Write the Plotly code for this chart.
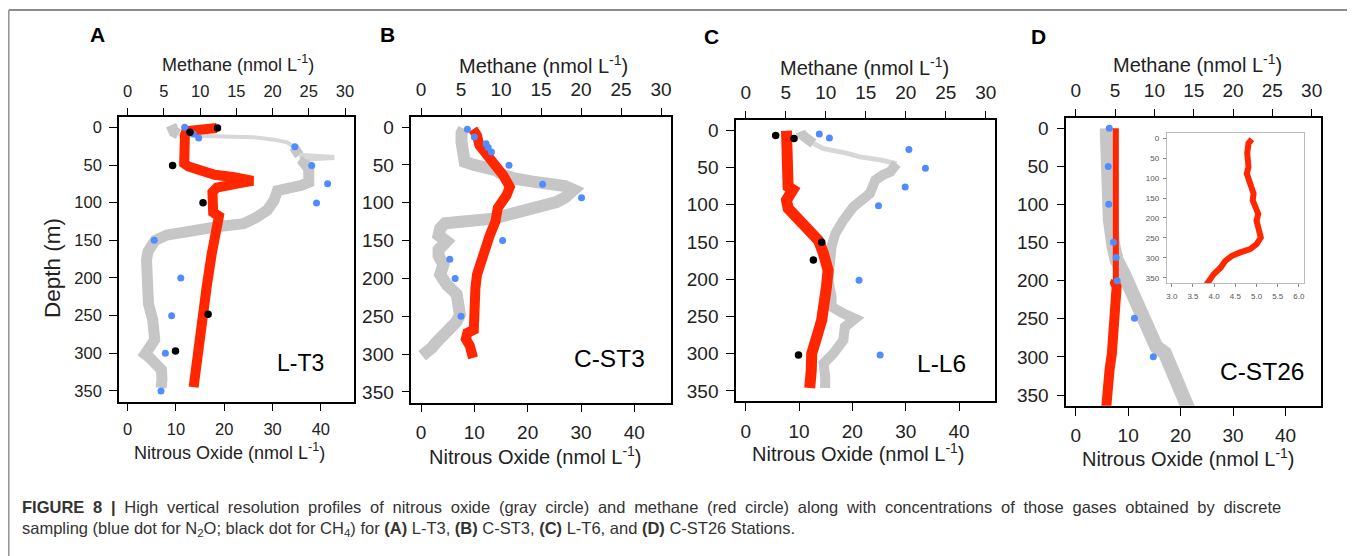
import plotly.graph_objects as go

# ---------------- DATA ----------------
# Panel A : L-T3
A_n2o_depth = [-3, 2, 6, 9, 11, 12, 13, 16, 20, 26, 32, 37, 39, 40, 42, 47, 55, 65, 73, 77, 80, 84, 97, 110, 119, 128, 132, 137, 143, 150, 156, 165, 176, 195, 212, 234, 256, 270, 282, 290, 297, 301, 306, 312, 322, 335, 346]
A_n2o = [9.0, 9.2, 9.6, 10.5, 14, 20, 26, 30, 33, 34.4, 35, 35.5, 40, 42.8, 37, 36.5, 37.5, 37.5, 37.5, 36, 32.5, 31, 30.3, 28.9, 26.8, 24, 18.5, 12.3, 8.1, 5.7, 4.8, 4.2, 3.9, 3.9, 4.0, 4.3, 5.2, 5.6, 5.6, 4.8, 3.8, 3.6, 4.6, 5.8, 7.0, 7.1, 6.9]
A_ch4_depth = [1, 2, 3, 5, 10, 30, 48, 52, 56, 60, 63, 66, 69, 71, 73, 76, 80, 86, 100, 113, 118, 122, 130, 168, 212, 256, 300, 327, 345]
A_ch4 = [12.3, 10.5, 8.8, 8.1, 7.9, 7.8, 7.8, 8.4, 9.6, 10.5, 12, 14.5, 16.5, 17.3, 16, 14, 12.3, 11.7, 11.6, 11.8, 12.6, 12.5, 12.2, 11.6, 10.9, 10.2, 9.8, 9.3, 9.1]
A_n2o_disc_depth = [0, 9, 14, 25.6, 50.7, 75, 100.6, 150, 200, 250, 300, 350]
A_n2o_disc = [11.8, 13.6, 14.7, 34.6, 38.1, 41.4, 39.1, 5.5, 11, 9.1, 7.8, 6.9]
A_ch4_disc_depth = [1, 6.6, 50.7, 100, 248, 297]
A_ch4_disc = [12.4, 8.6, 6.2, 10.4, 11.1, 6.6]

# Panel B : C-ST3
B_n2o_depth = [2, 8, 20, 30, 40, 46, 50, 53, 57, 63, 68, 72, 75, 78, 83, 88, 93, 99, 105, 110, 116, 121, 124, 127, 134, 143, 151, 156, 162, 170, 182, 195, 208, 221, 235, 248, 257, 265, 272, 278, 285, 292, 298, 302]
B_n2o = [8.0, 7.6, 7.6, 7.7, 7.8, 8.2, 10, 12.5, 14, 15.4, 17.5, 21, 24.5, 27, 28.6, 28, 27, 25.4, 22.5, 19.5, 16.7, 13.5, 9, 4.5, 3.6, 3.3, 4.8, 4.2, 3.3, 3.3, 4.2, 3.6, 4.8, 6.7, 7.3, 7.3, 6.7, 5.4, 4.5, 3.6, 2.8, 2.0, 1.0, 0.2]
B_ch4_depth = [3, 11, 24, 37, 50, 64, 79, 90, 107, 115, 125, 143, 169, 195, 213, 237, 257, 268, 272, 280, 289, 300, 305]
B_ch4 = [6.5, 7.0, 7.3, 8.3, 9.0, 10.3, 11.1, 10.7, 9.6, 9.5, 9.3, 8.6, 7.8, 7.0, 6.8, 6.8, 6.8, 6.6, 5.8, 5.6, 6.1, 6.5, 6.5]
B_n2o_disc_depth = [3, 13, 22, 27, 33, 50.4, 75.4, 93.4, 150, 174.6, 200, 250]
B_n2o_disc = [8.7, 10, 12.2, 12.6, 13.2, 16.5, 22.8, 30.1, 15.3, 5.4, 6.4, 7.5]

# Panel C : L-L6
C_n2o_depth = [2, 6, 10, 18, 25, 31, 36, 40, 45, 49, 56, 60, 67, 85, 103, 121, 139, 156, 174, 201, 224, 237, 246, 253, 264, 282, 300, 313, 331, 346]
C_n2o = [10.3, 10.5, 11.2, 12.7, 14.6, 18.9, 21.4, 25.2, 28.3, 28, 27.1, 25.8, 24.3, 23.3, 20.2, 18.3, 16.8, 16.1, 15.8, 15.5, 16.1, 16.1, 18.3, 20.5, 18.6, 18.3, 16.4, 14.6, 14.9, 14.9]
C_ch4_depth = [1, 31, 60, 76, 80, 85, 94, 105, 110, 121, 134, 148, 165, 188, 210, 232, 255, 277, 300, 322, 346]
C_ch4 = [5.1, 5.1, 5.15, 5.3, 5.9, 5.5, 5.1, 5.3, 5.75, 7.0, 8.0, 9.1, 9.7, 10.3, 10.1, 9.9, 9.5, 8.9, 8.25, 8.2, 8.0]
C_n2o_disc_depth = [5.4, 10.7, 26, 51.2, 76.4, 101.5, 201.6, 301.7]
C_n2o_disc = [13.8, 15.7, 30.6, 33.7, 29.9, 24.9, 21.25, 25.2]
C_ch4_disc_depth = [7.2, 11.2, 150.6, 174.3, 301.7]
C_ch4_disc = [3.75, 6.04, 9.5, 8.46, 6.6]

# Panel D : C-ST26
D_n2o_depth = [0, 33, 77, 120, 155, 173, 190, 208, 230, 252, 273, 287, 295, 317, 339, 361, 370]
D_n2o = [5.9, 5.9, 6.2, 6.5, 7.2, 7.8, 9.1, 10.3, 11.9, 13.2, 14.2, 15.4, 17.0, 18.6, 19.9, 21.1, 21.6]
D_ch4_depth = [0, 100, 200, 203, 208, 234, 252, 273, 295, 317, 339, 361, 370]
D_ch4 = [5.1, 5.1, 5.1, 5.0, 5.2, 5.1, 5.0, 4.8, 4.6, 4.3, 4.1, 3.9, 3.85]
D_n2o_disc_depth = [0, 50.3, 99.7, 149.6, 169.7, 200, 249.3, 299.7]
D_n2o_disc = [6.4, 6.2, 6.3, 7.2, 7.7, 7.9, 11.2, 14.8]
# inset (methane zoom)
D_inset_depth = [2.5, 12.6, 38, 72, 88.5, 105, 122, 139, 156, 173, 190, 207, 223, 240, 249, 266, 278, 287, 295, 308, 325, 341, 358, 367]
D_inset_ch4 = [4.89, 4.81, 4.78, 4.81, 4.77, 4.83, 4.89, 4.93, 4.91, 4.96, 5.04, 5.0, 5.04, 5.1, 5.1, 5.0, 4.85, 4.6, 4.42, 4.26, 4.15, 3.99, 3.87, 3.82]

station_names = ["L-T3", "C-ST3", "L-L6", "C-ST26"]
panel_letters = ["A", "B", "C", "D"]
depth_ticks = [0, 50, 100, 150, 200, 250, 300, 350]
methane_ticks = [0, 5, 10, 15, 20, 25, 30]
n2o_ticks = [0, 10, 20, 30, 40]
inset_x_ticks = [3.0, 3.5, 4.0, 4.5, 5.0, 5.5, 6.0]

# ---------------- LAYOUT helpers ----------------
# The page body has an 8 px margin, so the figure is drawn 8 px in from the window corner.
OFF = 8
W, H = 1355 - OFF, 556 - OFF
def px(x):
    return (x - OFF) / W
def py(y):
    return 1 - (y - OFF) / H

FONT = "Liberation Sans, Arial, Helvetica, sans-serif"
GRAY = "rgb(198,198,198)"
GRAY_LIGHT = "rgb(215,215,215)"
RED = "rgb(255,38,0)"
BLUE = "rgb(80,140,255)"
BLACK = "black"

# plot boxes in window pixels: (x0, x1, y0(top), y1(bottom))
boxes = [
    (119.0, 353.7, 116.8, 401.5),
    (411.4, 670.6, 116.5, 402.5),
    (736.1, 995.3, 119.6, 401.4),
    (1066.3, 1321.1, 117.6, 405.7),
]
tick_sizes = [16.5, 19, 19, 19]
title_sizes = [18, 20, 20, 20]

# band styling per panel: (first index, last index, width, colour) segments
gray_segments = [
    [(0, 3, 11, GRAY), (3, 9, 4, GRAY_LIGHT), (9, 11, 10, GRAY), (11, 14, 5, GRAY_LIGHT), (14, 46, 11, GRAY)],
    [(0, 43, 12, GRAY)],
    [(0, 3, 10, GRAY), (3, 8, 5, GRAY_LIGHT), (8, 29, 10, GRAY)],
    [(0, 16, 14, GRAY)],
]
red_segments = [
    [(0, 28, 10, RED)],
    [(0, 22, 10, RED)],
    [(0, 20, 11, RED)],
    [(0, 2, 6, RED), (2, 12, 10, RED)],
]

panel_data = [
    (A_n2o_depth, A_n2o, A_ch4_depth, A_ch4, A_n2o_disc_depth, A_n2o_disc, A_ch4_disc_depth, A_ch4_disc),
    (B_n2o_depth, B_n2o, B_ch4_depth, B_ch4, B_n2o_disc_depth, B_n2o_disc, [], []),
    (C_n2o_depth, C_n2o, C_ch4_depth, C_ch4, C_n2o_disc_depth, C_n2o_disc, C_ch4_disc_depth, C_ch4_disc),
    (D_n2o_depth, D_n2o, D_ch4_depth, D_ch4, D_n2o_disc_depth, D_n2o_disc, [], []),
]

N2O_RANGE = [-1.8, 46.8]
CH4_RANGE = [-1.2, 31.2]
DEPTH_RANGE = [364, -14]

fig = go.Figure()
layout = dict(
    width=W, height=H, margin=dict(l=0, r=0, t=0, b=0),
    paper_bgcolor="white", plot_bgcolor="white", showlegend=False,
    font=dict(family=FONT, color="#222"),
)

def sfx(n):
    return "" if n == 1 else str(n)

def add_band(xs, ys, segs, xa, ya):
    for a, b, w, c in segs:
        fig.add_trace(go.Scatter(x=xs[a:b + 1], y=ys[a:b + 1], mode="lines", xaxis=xa, yaxis=ya,
                                 line=dict(color=c, width=w), hoverinfo="skip"))

for i in range(4):
    x0, x1, y0, y1 = boxes[i]
    nb = i + 1          # bottom x axis & y axis index
    nt = i + 5          # top (methane) x axis index
    nblue = i + 10      # hidden overlay for discrete N2O dots (drawn above the red band)
    nblack = i + 14     # hidden overlay for discrete CH4 dots (drawn on top)
    tf = dict(family=FONT, size=tick_sizes[i], color="#222")
    layout["xaxis" + sfx(nb)] = dict(
        domain=[px(x0), px(x1)], anchor="y" + sfx(nb), range=N2O_RANGE,
        tickvals=n2o_ticks, ticks="outside", ticklen=8, tickwidth=1.2, tickcolor="black",
        showline=True, mirror=True, linecolor="black", linewidth=1.6,
        showgrid=False, zeroline=False, tickfont=tf, ticklabelstandoff=4,
    )
    layout["xaxis" + str(nt)] = dict(
        overlaying="x" + sfx(nb), side="top", anchor="y" + sfx(nb), range=CH4_RANGE,
        tickvals=methane_ticks, ticks="outside", ticklen=8, tickwidth=1.2, tickcolor="black",
        showline=False, showgrid=False, zeroline=False, tickfont=tf, ticklabelstandoff=4,
    )
    layout["xaxis" + str(nblue)] = dict(
        overlaying="x" + sfx(nb), anchor="y" + sfx(nb), range=N2O_RANGE, visible=False,
    )
    layout["xaxis" + str(nblack)] = dict(
        overlaying="x" + sfx(nb), anchor="y" + sfx(nb), range=CH4_RANGE, visible=False,
    )
    layout["yaxis" + sfx(nb)] = dict(
        domain=[py(y1), py(y0)], anchor="x" + sfx(nb), range=DEPTH_RANGE,
        tickvals=depth_ticks, ticks="outside", ticklen=8, tickwidth=1.2, tickcolor="black",
        showline=True, mirror=True, linecolor="black", linewidth=1.6,
        showgrid=False, zeroline=False, tickfont=tf, ticklabelstandoff=4,
    )
    nd, nv, cd, cv, bd, bv, kd, kv = panel_data[i]
    yy = "y" + sfx(nb)
    add_band(nv, nd, gray_segments[i], "x" + sfx(nb), yy)
    add_band(cv, cd, red_segments[i], "x" + str(nt), yy)
    fig.add_trace(go.Scatter(x=bv, y=bd, mode="markers", xaxis="x" + str(nblue), yaxis=yy,
                             marker=dict(color=BLUE, size=7)))
    if kd:
        fig.add_trace(go.Scatter(x=kv, y=kd, mode="markers", xaxis="x" + str(nblack), yaxis=yy,
                                 marker=dict(color=BLACK, size=7.5)))

# inset in panel D
ix0, ix1, iy0, iy1 = 1166.7, 1304.0, 132.7, 283.3
inset_font = dict(family=FONT, size=8, color="#555")
layout["xaxis9"] = dict(
    domain=[px(ix0), px(ix1)], anchor="y5", range=[2.88, 6.12],
    tickvals=inset_x_ticks, ticktext=["%.1f" % v for v in inset_x_ticks],
    ticks="outside", ticklen=3, tickwidth=0.8, tickcolor="#888",
    showline=True, mirror=True, linecolor="#bbb", linewidth=1,
    showgrid=False, zeroline=False, tickfont=inset_font, ticklabelstandoff=2,
)
layout["yaxis5"] = dict(
    domain=[py(iy1), py(iy0)], anchor="x9", range=DEPTH_RANGE,
    tickvals=depth_ticks, ticks="outside", ticklen=3, tickwidth=0.8, tickcolor="#888",
    showline=True, mirror=True, linecolor="#bbb", linewidth=1,
    showgrid=False, zeroline=False, tickfont=inset_font, ticklabelstandoff=2,
)
fig.add_trace(go.Scatter(x=D_inset_ch4, y=D_inset_depth, mode="lines", xaxis="x9", yaxis="y5",
                         line=dict(color=RED, width=6)))

# ---------------- annotations ----------------
ann = []
def add_text(x, y, text, size, bold=False, color="#222", xanchor="center", angle=0):
    ann.append(dict(x=px(x), y=py(y), xref="paper", yref="paper", text=("<b>%s</b>" % text) if bold else text,
                    showarrow=False, xanchor=xanchor, yanchor="middle", textangle=angle, borderpad=0,
                    font=dict(family=FONT, size=size, color=color)))

letter_pos = [(97, 34), (387, 35), (711, 36.5), (1038, 36.5)]
meth_title_pos = [(238, 63.5), (543, 65), (864, 66.5), (1197, 63.5)]
n2o_title_pos = [(229, 451), (535, 455), (859, 452), (1188, 457)]
station_pos = [(300, 363), (609, 358), (941, 363), (1262, 371.5)]
station_sizes = [23, 24.5, 24.5, 24.5]
for i in range(4):
    add_text(*letter_pos[i], panel_letters[i], 21, bold=True, color="black")
    add_text(*meth_title_pos[i], "Methane (nmol L<sup>-1</sup>)", title_sizes[i])
    add_text(*n2o_title_pos[i], "Nitrous Oxide (nmol L<sup>-1</sup>)", title_sizes[i])
    add_text(*station_pos[i], station_names[i], station_sizes[i], color="black")
add_text(52, 268, "Depth (m)", 22.5, angle=-90)

# first caption line is justified in the reference: widen the word gaps
SP = " &#8197;"
cap1_words = ["<b>FIGURE", "8", "|</b>", "High", "vertical", "resolution", "profiles", "of", "nitrous", "oxide",
              "(gray", "circle)", "and", "methane", "(red", "circle)", "along", "with", "concentrations", "of",
              "those", "gases", "obtained", "by", "discrete"]
cap1 = SP.join(cap1_words)
cap2 = ("sampling (blue dot for N<sub>2</sub>O; black dot for CH<sub>4</sub>) for <b>(A)</b> L-T3, "
        "<b>(B)</b> C-ST3, <b>(C)</b> L-T6, and <b>(D)</b> C-ST26 Stations.")
add_text(21, 507, cap1, 16.5, color="#333", xanchor="left")
add_text(21, 529, cap2, 16.5, color="#333", xanchor="left")

layout["annotations"] = ann
layout["shapes"] = [
    dict(type="line", xref="paper", yref="paper", x0=px(8.8), x1=1, y0=py(10), y1=py(10),
         line=dict(color="#666", width=1.6)),
    dict(type="line", xref="paper", yref="paper", x0=px(8.8), x1=px(8.8), y0=py(10), y1=0,
         line=dict(color="#999", width=1.6)),
]
fig.update_layout(**layout)
fig.write_html("out.html")
